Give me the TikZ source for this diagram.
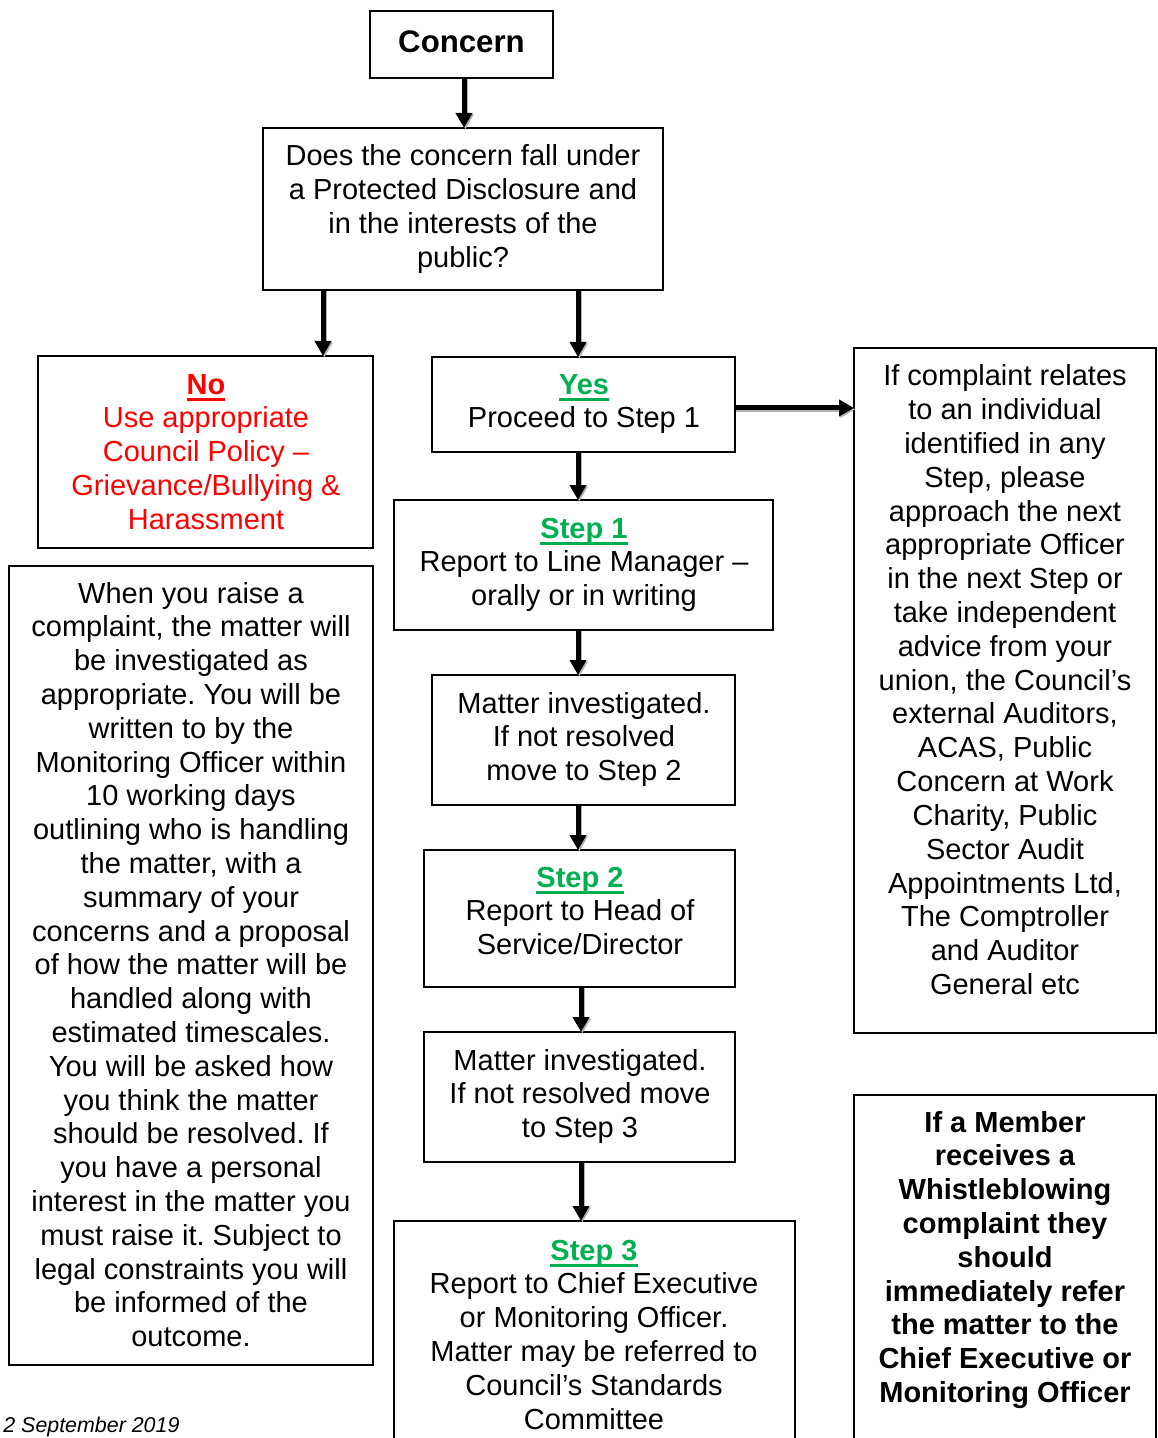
\documentclass[tikz,border=0pt]{standalone}
\usepackage{fontspec}
\setmainfont{Liberation Sans}
\usetikzlibrary{arrows.meta}
\definecolor{stepgreen}{HTML}{00B050}
\definecolor{nored}{HTML}{FF0000}
\frenchspacing
% underlined heading word with a thick rule
\newcommand\ulword[1]{\setbox0=\hbox{#1}\rlap{\rule[-3.6pt]{\wd0}{1.7pt}}\box0}
% centred stack of lines whose reference point is the first baseline
\newcommand\stack[1]{\begin{tabular}[t]{@{}c@{}}#1\end{tabular}}
\tikzset{
  box/.style={draw=black, line width=0.9pt, inner sep=0pt, outer sep=0pt, anchor=north west},
  txt/.style={inner sep=0pt, outer sep=0pt, anchor=base, font=\fontsize{14.5}{16.9}\selectfont},
  flow/.style={line width=2.5pt, -{Triangle[length=7.5pt,width=8pt]}},
  flowshadow/.style={flow, draw=black!30, fill=black!30, transform canvas={shift={(0.7pt,-0.7pt)}}},
}
\begin{document}
\begin{tikzpicture}[x=0.5pt, y=-0.5pt]
\useasboundingbox (0,0) rectangle (1157,1438);
\clip (0,0) rectangle (1157,1438);

% boxes
\node[box, minimum width=91.5pt,  minimum height=33.5pt] (concern) at (370,11) {};
\node[box, minimum width=200pt,   minimum height=81pt]   (question) at (263,128) {};
\node[box, minimum width=167.5pt, minimum height=96pt]   (no) at (38,356) {};
\node[box, minimum width=151.5pt, minimum height=47.5pt] (yes) at (432,357) {};
\node[box, minimum width=189.5pt, minimum height=65pt]   (step1) at (394,500) {};
\node[box, minimum width=151.5pt, minimum height=65pt]   (inv1) at (432,675) {};
\node[box, minimum width=155.5pt, minimum height=68.5pt] (step2) at (424,850) {};
\node[box, minimum width=155.5pt, minimum height=65pt]   (inv2) at (424,1032) {};
\node[box, minimum width=200.5pt, minimum height=120pt]  (step3) at (394,1221) {};
\node[box, minimum width=151pt,   minimum height=342.5pt] (indiv) at (854,348) {};
\node[box, minimum width=151pt,   minimum height=185pt]  (member) at (854,1095) {};
\node[box, minimum width=182pt,   minimum height=399.5pt] (raise) at (9,566) {};

% texts
\node[txt, font=\fontsize{15.6}{18}\selectfont\bfseries] (concern-t) at (461.5,53) {Concern};
\node[txt] (question-t) at (463,166) {\stack{Does the concern fall under\\a Protected Disclosure and\\in the interests of the\\public?}};
\node[txt, text=nored] (no-t) at (206,394) {\stack{{\bfseries\ulword{No}}\\Use appropriate\\Council Policy –\\Grievance/Bullying \&\\Harassment}};
\node[txt] (yes-t) at (584,394) {\stack{{\color{stepgreen}\bfseries\ulword{Yes}}\\Proceed to Step 1}};
\node[txt] (step1-t) at (584,538) {\stack{{\color{stepgreen}\bfseries\ulword{Step 1}}\\Report to Line Manager –\\orally or in writing}};
\node[txt] (inv1-t) at (584,713) {\stack{Matter investigated.\\If not resolved\\move to Step 2}};
\node[txt] (step2-t) at (580,887) {\stack{{\color{stepgreen}\bfseries\ulword{Step 2}}\\Report to Head of\\Service/Director}};
\node[txt] (inv2-t) at (580,1070) {\stack{Matter investigated.\\If not resolved move\\to Step 3}};
\node[txt] (step3-t) at (594,1260) {\stack{{\color{stepgreen}\bfseries\ulword{Step 3}}\\Report to Chief Executive\\or Monitoring Officer.\\Matter may be referred to\\Council’s Standards\\Committee}};
\node[txt] (indiv-t) at (1005,386) {\stack{If complaint relates\\to an individual\\identified in any\\Step, please\\approach the next\\appropriate Officer\\in the next Step or\\take independent\\advice from your\\union, the Council’s\\external Auditors,\\ACAS, Public\\Concern at Work\\Charity, Public\\Sector Audit\\Appointments Ltd,\\The Comptroller\\and Auditor\\General etc}};
\node[txt, font=\fontsize{14.5}{16.9}\selectfont\bfseries] (member-t) at (1005,1132) {\stack{If a Member\\receives a\\Whistleblowing\\complaint they\\should\\immediately refer\\the matter to the\\Chief Executive or\\Monitoring Officer}};
\node[txt] (raise-t) at (191,603) {\stack{When you raise a\\complaint, the matter will\\be investigated as\\appropriate. You will be\\written to by the\\Monitoring Officer within\\10 working days\\outlining who is handling\\the matter, with a\\summary of your\\concerns and a proposal\\of how the matter will be\\handled along with\\estimated timescales.\\You will be asked how\\you think the matter\\should be resolved. If\\you have a personal\\interest in the matter you\\must raise it. Subject to\\legal constraints you will\\be informed of the\\outcome.}};
\node[inner sep=0pt, anchor=base west, font=\fontsize{10.7}{12}\selectfont\itshape] (date) at (3,1432) {2 September 2019};

% connector shadows
\draw[flowshadow] (concern.south -| 464,0) -- (question.north -| 464,0);
\draw[flowshadow] (question.south -| 323,0) -- (no.north -| 323,0);
\draw[flowshadow] (question.south -| 578,0) -- (yes.north -| 578,0);
\draw[flowshadow] (yes.south -| 578,0) -- (step1.north -| 578,0);
\draw[flowshadow] (step1.south -| 578,0) -- (inv1.north -| 578,0);
\draw[flowshadow] (inv1.south -| 578,0) -- (step2.north -| 578,0);
\draw[flowshadow] (step2.south -| 581,0) -- (inv2.north -| 581,0);
\draw[flowshadow] (inv2.south -| 581,0) -- (step3.north -| 581,0);
\draw[flowshadow] (yes.east |- 0,408) -- (indiv.west |- 0,408);

% connectors
\draw[flow] (concern.south -| 464,0) -- (question.north -| 464,0);
\draw[flow] (question.south -| 323,0) -- (no.north -| 323,0);
\draw[flow] (question.south -| 578,0) -- (yes.north -| 578,0);
\draw[flow] (yes.south -| 578,0) -- (step1.north -| 578,0);
\draw[flow] (step1.south -| 578,0) -- (inv1.north -| 578,0);
\draw[flow] (inv1.south -| 578,0) -- (step2.north -| 578,0);
\draw[flow] (step2.south -| 581,0) -- (inv2.north -| 581,0);
\draw[flow] (inv2.south -| 581,0) -- (step3.north -| 581,0);
\draw[flow] (yes.east |- 0,408) -- (indiv.west |- 0,408);
\end{tikzpicture}
\end{document}
